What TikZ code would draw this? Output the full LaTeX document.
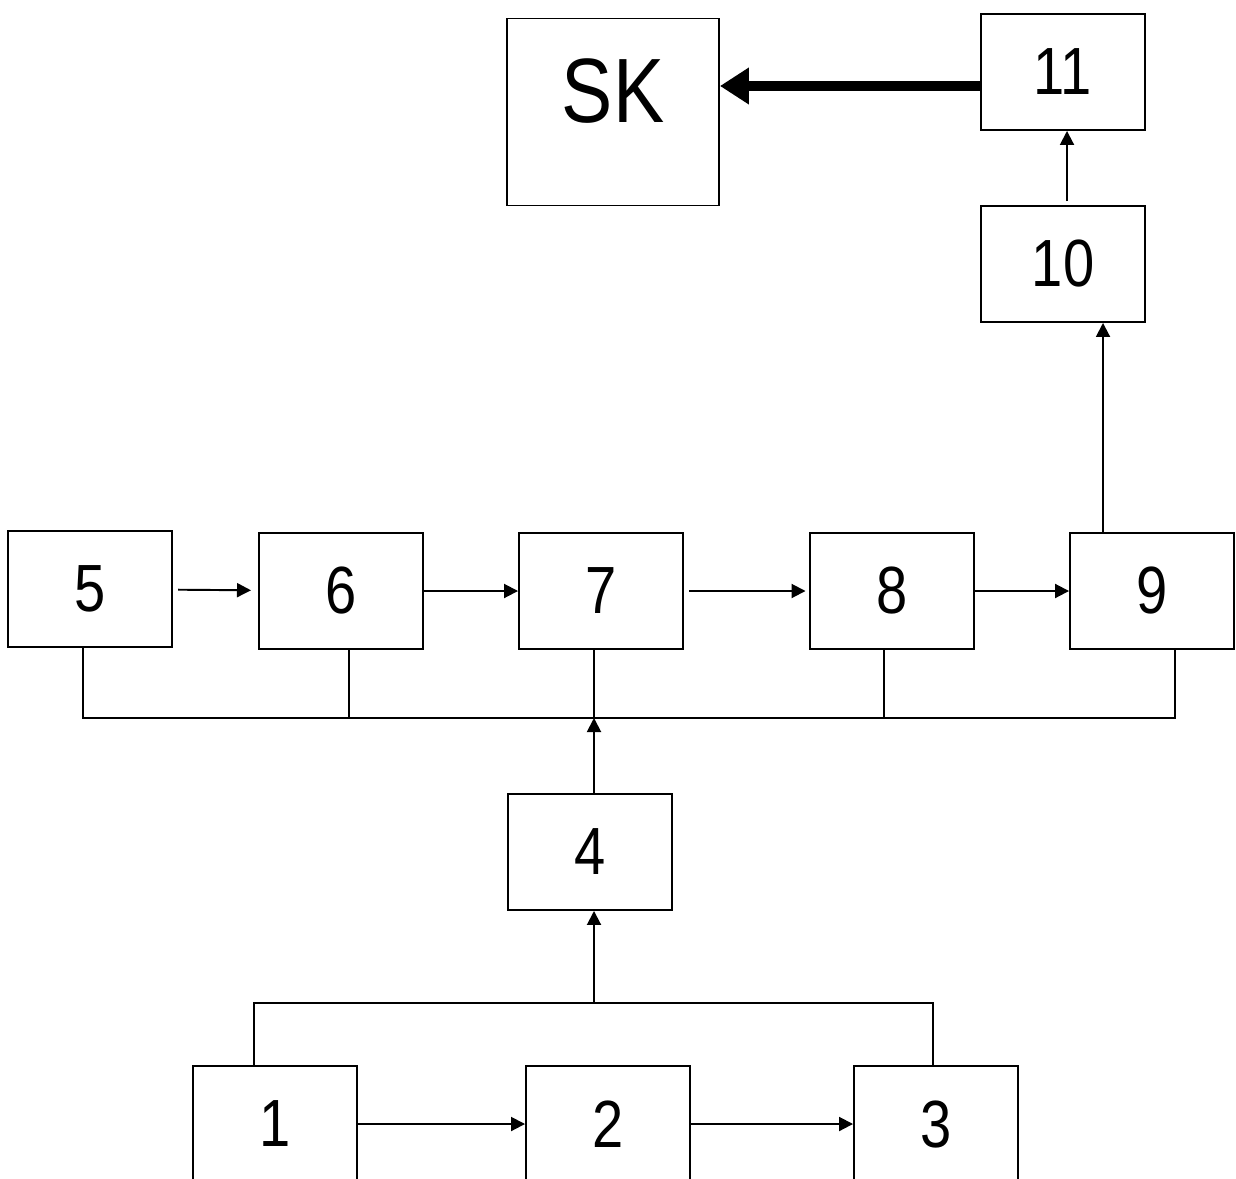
\documentclass[tikz,border=0pt]{standalone}
\usepackage{fontspec}
\setmainfont{Liberation Sans}[FakeStretch=0.84]
\usetikzlibrary{arrows.meta,positioning}
\tikzset{
    x=0.2mm, y=-0.2mm, % one unit is one pixel of the sketch
    >={Triangle[length=0.28cm,width=0.28cm]}, % small filled heads
    blk/.style={draw, line width=1.1pt, minimum width=3.28cm, minimum height=2.32cm,
        inner sep=0pt, font=\fontsize{38}{40}\selectfont}, % the numbered blocks
    wire/.style={line width=1.1pt}, % thin connecting lines
    fatarrow/.style={line width=0.2cm, -{Triangle[length=0.58cm,width=0.7cm]}}, % output arrow
}
\begin{document}
\begin{tikzpicture}
  \useasboundingbox (0,0) rectangle (1236,1178);
  \clip (0,0) rectangle (1236,1178);

  % top blocks
  \node[blk, minimum width=4.24cm, minimum height=3.74cm,
      font=\fontsize{52}{54}\selectfont, text height=1.3cm, text depth=0.88cm] (sk) at (613,112) {SK};
  \node[blk] (n11) at (1063,72) {11};
  \node[blk] (n10) at (1063,264) {10};

  % middle row
  \node[blk] (n5) at (90,589) {5};
  \node[blk] (n6) at (341,591) {6};
  \node[blk] (n7) at (601,591) {7};
  \node[blk] (n8) at (892,591) {8};
  \node[blk] (n9) at (1152,591) {9};

  \node[blk] (n4) at (590,852) {4};

  % bottom row (cut by the page edge)
  \node[blk] (n1) at (275,1124) {1};
  \node[blk] (n2) at (608,1124) {2};
  \node[blk] (n3) at (936,1124) {3};

  \coordinate (busL) at (83,718);
  \coordinate (busR) at (1175,718);
  \coordinate (lowL) at (254,1003);
  \coordinate (lowR) at (933,1003);
  \coordinate (lowM) at (594,1003);

  \path[wire,->]
    (n5) edge [shorten <=3pt, shorten >=4pt] (n6)
    (n6) edge (n7)
    (n7) edge [shorten <=3pt, shorten >=2pt] (n8)
    (n8) edge (n9)
    (n1) edge (n2)
    (n2) edge (n3);

  % collecting lines
  \draw[wire] (83,0 |- n5.south) -- (busL) -- (busR) -- (1175,0 |- n9.south);
  \draw[wire] (349,0 |- n6.south) -- (349,0 |- busL);
  \draw[wire] (594,0 |- n7.south) -- (594,0 |- busL);
  \draw[wire] (884,0 |- n8.south) -- (884,0 |- busL);
  \draw[wire,->] (594,0 |- n4.north) -- (594,0 |- busL);

  \draw[wire] (254,0 |- n1.north) -- (lowL) -- (lowR) -- (933,0 |- n3.north);
  \draw[wire,->] (lowM) -- (594,0 |- n4.south);

  % up to the output
  \draw[wire,->] (1103,0 |- n9.north) -- (1103,0 |- n10.south);
  \draw[wire,->] (1067,0 |- n10.north) ++(0,-4) -- (1067,0 |- n11.south);
  \draw[fatarrow] (n11.west |- 0,86) -- (sk.east |- 0,86);
\end{tikzpicture}
\end{document}
